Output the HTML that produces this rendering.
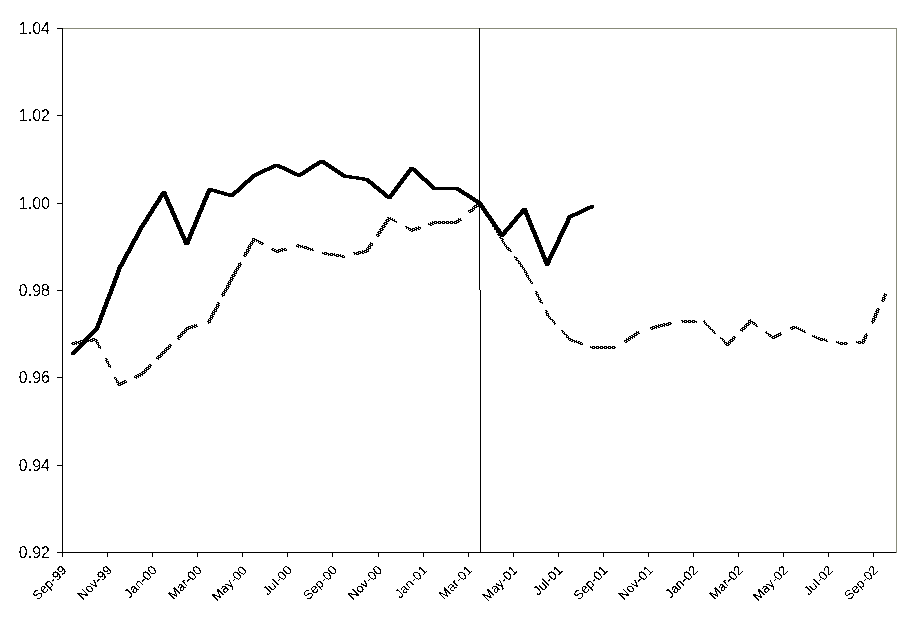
<!DOCTYPE html>
<html><head><meta charset="utf-8"><title>Chart</title>
<style>
html,body{margin:0;padding:0;background:#fff;}
svg{display:block;}
text{font-family:"Liberation Sans",Arial,sans-serif;fill:#000;}
</style></head><body>
<svg width="911" height="623" viewBox="0 0 911 623">
<defs>
<pattern id="dith" patternUnits="userSpaceOnUse" x="0" y="0" width="4" height="2">
<rect x="0" y="0" width="4" height="2" fill="#000"/><rect x="3" y="0" width="1" height="1" fill="#fff"/><rect x="1" y="1" width="1" height="1" fill="#fff"/>
</pattern>
<filter id="crisp" x="0" y="0" width="100%" height="100%" color-interpolation-filters="sRGB">
<feComponentTransfer><feFuncA type="discrete" tableValues="0 1"/></feComponentTransfer>
</filter>
<filter id="crisp2" x="0" y="0" width="100%" height="100%" color-interpolation-filters="sRGB">
<feComponentTransfer><feFuncA type="linear" slope="60" intercept="-27"/></feComponentTransfer>
</filter>
</defs>
<rect x="0" y="0" width="911" height="623" fill="#fff"/>
<g shape-rendering="crispEdges">
<rect x="63" y="28" width="834" height="1" fill="#888b7a"/>
<rect x="896" y="28" width="1" height="525" fill="#888b7a"/>
<rect x="62" y="28" width="1" height="529" fill="#000"/>
<rect x="62" y="552" width="834" height="1" fill="#000"/>
<rect x="57" y="28" width="5" height="1" fill="#000"/>
<rect x="57" y="115" width="5" height="1" fill="#000"/>
<rect x="57" y="203" width="5" height="1" fill="#000"/>
<rect x="57" y="290" width="5" height="1" fill="#000"/>
<rect x="57" y="377" width="5" height="1" fill="#000"/>
<rect x="57" y="465" width="5" height="1" fill="#000"/>
<rect x="57" y="552" width="5" height="1" fill="#000"/>
<rect x="62" y="552" width="1" height="5" fill="#000"/>
<rect x="107" y="552" width="1" height="5" fill="#000"/>
<rect x="152" y="552" width="1" height="5" fill="#000"/>
<rect x="197" y="552" width="1" height="5" fill="#000"/>
<rect x="242" y="552" width="1" height="5" fill="#000"/>
<rect x="287" y="552" width="1" height="5" fill="#000"/>
<rect x="332" y="552" width="1" height="5" fill="#000"/>
<rect x="378" y="552" width="1" height="5" fill="#000"/>
<rect x="423" y="552" width="1" height="5" fill="#000"/>
<rect x="468" y="552" width="1" height="5" fill="#000"/>
<rect x="513" y="552" width="1" height="5" fill="#000"/>
<rect x="558" y="552" width="1" height="5" fill="#000"/>
<rect x="603" y="552" width="1" height="5" fill="#000"/>
<rect x="648" y="552" width="1" height="5" fill="#000"/>
<rect x="693" y="552" width="1" height="5" fill="#000"/>
<rect x="738" y="552" width="1" height="5" fill="#000"/>
<rect x="783" y="552" width="1" height="5" fill="#000"/>
<rect x="828" y="552" width="1" height="5" fill="#000"/>
<rect x="873" y="552" width="1" height="5" fill="#000"/>
<rect x="479" y="28" width="1" height="262" fill="#000"/>
<rect x="480" y="290" width="1" height="262" fill="#000"/>
<path d="M71.00,342.60 L72.77,342.30 L95.31,338.50 L99.80,347.46 M72.00,342.60 L73.77,342.30 L96.31,338.50 L100.80,347.46 M71.00,343.60 L72.77,343.30 L95.31,339.50 L99.80,348.46 M72.00,343.60 L73.77,343.30 L96.31,339.50 L100.80,348.46 M73.00,343.60 L74.77,343.30 L97.31,339.50 L101.80,348.46 M72.00,344.60 L73.77,344.30 L96.31,340.50 L100.80,349.46 M73.00,344.60 L74.77,344.30 L97.31,340.50 L101.80,349.46 M105.00,357.84 L108.90,365.63 M106.00,357.84 L109.90,365.63 M105.00,358.84 L108.90,366.63 M106.00,358.84 L109.90,366.63 M107.00,358.84 L110.90,366.63 M106.00,359.84 L109.90,367.63 M107.00,359.84 L110.90,367.63 M114.60,377.01 L117.85,383.50 L124.70,380.46 M115.60,377.01 L118.85,383.50 L125.70,380.46 M114.60,378.01 L117.85,384.50 L124.70,381.46 M115.60,378.01 L118.85,384.50 L125.70,381.46 M116.60,378.01 L119.85,384.50 L126.70,381.46 M115.60,379.01 L118.85,385.50 L125.70,382.46 M116.60,379.01 L119.85,385.50 L126.70,382.46 M133.70,376.47 L140.39,373.50 L149.70,364.42 M134.70,376.47 L141.39,373.50 L150.70,364.42 M133.70,377.47 L140.39,374.50 L149.70,365.42 M134.70,377.47 L141.39,374.50 L150.70,365.42 M135.70,377.47 L142.39,374.50 L151.70,365.42 M134.70,378.47 L141.39,375.50 L150.70,366.42 M135.70,378.47 L142.39,375.50 L151.70,366.42 M155.60,358.66 L162.93,351.50 L169.90,344.08 M156.60,358.66 L163.93,351.50 L170.90,344.08 M155.60,359.66 L162.93,352.50 L169.90,345.08 M156.60,359.66 L163.93,352.50 L170.90,345.08 M157.60,359.66 L164.93,352.50 L171.90,345.08 M156.60,360.66 L163.93,353.50 L170.90,346.08 M157.60,360.66 L164.93,353.50 L171.90,346.08 M175.80,337.80 L185.47,327.50 L196.40,324.35 M176.80,337.80 L186.47,327.50 L197.40,324.35 M175.80,338.80 L185.47,328.50 L196.40,325.35 M176.80,338.80 L186.47,328.50 L197.40,325.35 M177.80,338.80 L187.47,328.50 L198.40,325.35 M176.80,339.80 L186.47,329.50 L197.40,326.35 M177.80,339.80 L187.47,329.50 L198.40,326.35 M206.80,321.35 L208.01,321.00 L218.20,301.57 M207.80,321.35 L209.01,321.00 L219.20,301.57 M206.80,322.35 L208.01,322.00 L218.20,302.57 M207.80,322.35 L209.01,322.00 L219.20,302.57 M208.80,322.35 L210.01,322.00 L220.20,302.57 M207.80,323.35 L209.01,323.00 L219.20,303.57 M208.80,323.35 L210.01,323.00 L220.20,303.57 M221.60,295.08 L230.55,278.00 L239.70,261.77 M222.60,295.08 L231.55,278.00 L240.70,261.77 M221.60,296.08 L230.55,279.00 L239.70,262.77 M222.60,296.08 L231.55,279.00 L240.70,262.77 M223.60,296.08 L232.55,279.00 L241.70,262.77 M222.60,297.08 L231.55,280.00 L240.70,263.77 M223.60,297.08 L232.55,280.00 L241.70,263.77 M243.40,255.20 L253.09,238.00 L261.80,242.83 M244.40,255.20 L254.09,238.00 L262.80,242.83 M243.40,256.20 L253.09,239.00 L261.80,243.83 M244.40,256.20 L254.09,239.00 L262.80,243.83 M245.40,256.20 L255.09,239.00 L263.80,243.83 M244.40,257.20 L254.09,240.00 L262.80,244.83 M245.40,257.20 L255.09,240.00 L263.80,244.83 M270.80,247.82 L275.64,250.50 L284.90,248.07 M271.80,247.82 L276.64,250.50 L285.90,248.07 M270.80,248.82 L275.64,251.50 L284.90,249.07 M271.80,248.82 L276.64,251.50 L285.90,249.07 M272.80,248.82 L277.64,251.50 L286.90,249.07 M271.80,249.82 L276.64,252.50 L285.90,250.07 M272.80,249.82 L277.64,252.50 L286.90,250.07 M295.60,245.27 L298.18,244.60 L311.80,249.07 M296.60,245.27 L299.18,244.60 L312.80,249.07 M295.60,246.27 L298.18,245.60 L311.80,250.07 M296.60,246.27 L299.18,245.60 L312.80,250.07 M297.60,246.27 L300.18,245.60 L313.80,250.07 M296.60,247.27 L299.18,246.60 L312.80,251.07 M297.60,247.27 L300.18,246.60 L313.80,251.07 M321.60,252.14 L342.50,255.38 M322.60,252.14 L343.50,255.38 M321.60,253.14 L342.50,256.38 M322.60,253.14 L343.50,256.38 M323.60,253.14 L344.50,256.38 M322.60,254.14 L343.50,257.38 M323.60,254.14 L344.50,257.38 M352.70,253.20 L365.80,250.00 L371.40,241.80 M353.70,253.20 L366.80,250.00 L372.40,241.80 M352.70,254.20 L365.80,251.00 L371.40,242.80 M353.70,254.20 L366.80,251.00 L372.40,242.80 M354.70,254.20 L367.80,251.00 L373.40,242.80 M353.70,255.20 L366.80,252.00 L372.40,243.80 M354.70,255.20 L367.80,252.00 L373.40,243.80 M375.90,235.21 L388.34,217.00 L395.40,220.85 M376.90,235.21 L389.34,217.00 L396.40,220.85 M375.90,236.21 L388.34,218.00 L395.40,221.85 M376.90,236.21 L389.34,218.00 L396.40,221.85 M377.90,236.21 L390.34,218.00 L397.40,221.85 M376.90,237.21 L389.34,219.00 L396.40,222.85 M377.90,237.21 L390.34,219.00 L397.40,222.85 M404.90,226.04 L410.88,229.30 L418.60,226.70 M405.90,226.04 L411.88,229.30 L419.60,226.70 M404.90,227.04 L410.88,230.30 L418.60,227.70 M405.90,227.04 L411.88,230.30 L419.60,227.70 M406.90,227.04 L412.88,230.30 L420.60,227.70 M405.90,228.04 L411.88,231.30 L419.60,228.70 M406.90,228.04 L412.88,231.30 L420.60,228.70 M427.80,223.59 L433.42,221.70 L455.96,221.00 L459.50,218.09 M428.80,223.59 L434.42,221.70 L456.96,221.00 L460.50,218.09 M427.80,224.59 L433.42,222.70 L455.96,222.00 L459.50,219.09 M428.80,224.59 L434.42,222.70 L456.96,222.00 L460.50,219.09 M429.80,224.59 L435.42,222.70 L457.96,222.00 L461.50,219.09 M428.80,225.59 L434.42,223.70 L456.96,223.00 L460.50,220.09 M429.80,225.59 L435.42,223.70 L457.96,223.00 L461.50,220.09 M467.70,211.36 L478.50,202.50 L480.80,206.17 M468.70,211.36 L479.50,202.50 L481.80,206.17 M467.70,212.36 L478.50,203.50 L480.80,207.17 M468.70,212.36 L479.50,203.50 L481.80,207.17 M469.70,212.36 L480.50,203.50 L482.80,207.17 M468.70,213.36 L479.50,204.50 L481.80,208.17 M469.70,213.36 L480.50,204.50 L482.80,208.17 M486.60,215.44 L501.04,238.50 L509.60,250.08 M487.60,215.44 L502.04,238.50 L510.60,250.08 M486.60,216.44 L501.04,239.50 L509.60,251.08 M487.60,216.44 L502.04,239.50 L510.60,251.08 M488.60,216.44 L503.04,239.50 L511.60,251.08 M487.60,217.44 L502.04,240.50 L510.60,252.08 M488.60,217.44 L503.04,240.50 L511.60,252.08 M514.00,256.04 L523.58,269.00 L530.50,282.35 M515.00,256.04 L524.58,269.00 L531.50,282.35 M514.00,257.04 L523.58,270.00 L530.50,283.35 M515.00,257.04 L524.58,270.00 L531.50,283.35 M516.00,257.04 L525.58,270.00 L532.50,283.35 M515.00,258.04 L524.58,271.00 L531.50,284.35 M516.00,258.04 L525.58,271.00 L532.50,284.35 M534.90,290.84 L540.60,301.84 M535.90,290.84 L541.60,301.84 M534.90,291.84 L540.60,302.84 M535.90,291.84 L541.60,302.84 M536.90,291.84 L542.60,302.84 M535.90,292.84 L541.60,303.84 M536.90,292.84 L542.60,303.84 M544.90,310.14 L546.12,312.50 L555.60,323.43 M545.90,310.14 L547.12,312.50 L556.60,323.43 M544.90,311.14 L546.12,313.50 L555.60,324.43 M545.90,311.14 L547.12,313.50 L556.60,324.43 M546.90,311.14 L548.12,313.50 L557.60,324.43 M545.90,312.14 L547.12,314.50 L556.60,325.43 M546.90,312.14 L548.12,314.50 L557.60,325.43 M561.70,330.47 L568.66,338.50 L580.70,342.77 M562.70,330.47 L569.66,338.50 L581.70,342.77 M561.70,331.47 L568.66,339.50 L580.70,343.77 M562.70,331.47 L569.66,339.50 L581.70,343.77 M563.70,331.47 L570.66,339.50 L582.70,343.77 M562.70,332.47 L569.66,340.50 L581.70,344.77 M563.70,332.47 L570.66,340.50 L582.70,344.77 M589.70,345.97 L591.20,346.50 L613.74,346.50 L614.40,346.08 M590.70,345.97 L592.20,346.50 L614.74,346.50 L615.40,346.08 M589.70,346.97 L591.20,347.50 L613.74,347.50 L614.40,347.08 M590.70,346.97 L592.20,347.50 L614.74,347.50 L615.40,347.08 M591.70,346.97 L593.20,347.50 L615.74,347.50 L616.40,347.08 M590.70,347.97 L592.20,348.50 L614.74,348.50 L615.40,348.08 M591.70,347.97 L593.20,348.50 L615.74,348.50 L616.40,348.08 M623.50,340.22 L636.28,332.00 L637.90,331.48 M624.50,340.22 L637.28,332.00 L638.90,331.48 M623.50,341.22 L636.28,333.00 L637.90,332.48 M624.50,341.22 L637.28,333.00 L638.90,332.48 M625.50,341.22 L638.28,333.00 L639.90,332.48 M624.50,342.22 L637.28,334.00 L638.90,333.48 M625.50,342.22 L638.28,334.00 L639.90,333.48 M649.70,327.71 L658.82,324.80 L669.60,322.74 M650.70,327.71 L659.82,324.80 L670.60,322.74 M649.70,328.71 L658.82,325.80 L669.60,323.74 M650.70,328.71 L659.82,325.80 L670.60,323.74 M651.70,328.71 L660.82,325.80 L671.60,323.74 M650.70,329.71 L659.82,326.80 L670.60,324.74 M651.70,329.71 L660.82,326.80 L671.60,324.74 M680.70,320.63 L681.36,320.50 L694.50,320.50 M681.70,320.63 L682.36,320.50 L695.50,320.50 M680.70,321.63 L681.36,321.50 L694.50,321.50 M681.70,321.63 L682.36,321.50 L695.50,321.50 M682.70,321.63 L683.36,321.50 L696.50,321.50 M681.70,322.63 L682.36,322.50 L695.50,322.50 M682.70,322.63 L683.36,322.50 L696.50,322.50 M703.10,320.50 L703.91,320.50 L714.70,331.75 M704.10,320.50 L704.91,320.50 L715.70,331.75 M703.10,321.50 L703.91,321.50 L714.70,332.75 M704.10,321.50 L704.91,321.50 L715.70,332.75 M705.10,321.50 L705.91,321.50 L716.70,332.75 M704.10,322.50 L704.91,322.50 L715.70,333.75 M705.10,322.50 L705.91,322.50 L716.70,333.75 M719.60,336.86 L726.45,344.00 L733.80,336.01 M720.60,336.86 L727.45,344.00 L734.80,336.01 M719.60,337.86 L726.45,345.00 L733.80,337.01 M720.60,337.86 L727.45,345.00 L734.80,337.01 M721.60,337.86 L728.45,345.00 L735.80,337.01 M720.60,338.86 L727.45,346.00 L734.80,338.01 M721.60,338.86 L728.45,346.00 L735.80,338.01 M738.90,330.46 L748.99,319.50 L756.30,325.02 M739.90,330.46 L749.99,319.50 L757.30,325.02 M738.90,331.46 L748.99,320.50 L756.30,326.02 M739.90,331.46 L749.99,320.50 L757.30,326.02 M740.90,331.46 L750.99,320.50 L758.30,326.02 M739.90,332.46 L749.99,321.50 L757.30,327.02 M740.90,332.46 L750.99,321.50 L758.30,327.02 M764.70,331.35 L771.53,336.50 L780.30,332.41 M765.70,331.35 L772.53,336.50 L781.30,332.41 M764.70,332.35 L771.53,337.50 L780.30,333.41 M765.70,332.35 L772.53,337.50 L781.30,333.41 M766.70,332.35 L773.53,337.50 L782.30,333.41 M765.70,333.35 L772.53,338.50 L781.30,334.41 M766.70,333.35 L773.53,338.50 L782.30,334.41 M789.60,328.08 L794.07,326.00 L803.60,330.86 M790.60,328.08 L795.07,326.00 L804.60,330.86 M789.60,329.08 L794.07,327.00 L803.60,331.86 M790.60,329.08 L795.07,327.00 L804.60,331.86 M791.60,329.08 L796.07,327.00 L805.60,331.86 M790.60,330.08 L795.07,328.00 L804.60,332.86 M791.60,330.08 L796.07,328.00 L805.60,332.86 M811.80,335.05 L816.61,337.50 L825.70,339.44 M812.80,335.05 L817.61,337.50 L826.70,339.44 M811.80,336.05 L816.61,338.50 L825.70,340.44 M812.80,336.05 L817.61,338.50 L826.70,340.44 M813.80,336.05 L818.61,338.50 L827.70,340.44 M812.80,337.05 L817.61,339.50 L826.70,341.44 M813.80,337.05 L818.61,339.50 L827.70,341.44 M835.80,341.59 L839.15,342.30 L845.70,342.07 M836.80,341.59 L840.15,342.30 L846.70,342.07 M835.80,342.59 L839.15,343.30 L845.70,343.07 M836.80,342.59 L840.15,343.30 L846.70,343.07 M837.80,342.59 L841.15,343.30 L847.70,343.07 M836.80,343.59 L840.15,344.30 L846.70,344.07 M837.80,343.59 L841.15,344.30 L847.70,344.07 M855.70,341.71 L861.69,341.50 L865.90,332.63 M856.70,341.71 L862.69,341.50 L866.90,332.63 M855.70,342.71 L861.69,342.50 L865.90,333.63 M856.70,342.71 L862.69,342.50 L866.90,333.63 M857.70,342.71 L863.69,342.50 L867.90,333.63 M856.70,343.71 L862.69,343.50 L866.90,334.63 M857.70,343.71 L863.69,343.50 L867.90,334.63 M871.00,321.88 L877.50,308.18 M872.00,321.88 L878.50,308.18 M871.00,322.88 L877.50,309.18 M872.00,322.88 L878.50,309.18 M873.00,322.88 L879.50,309.18 M872.00,323.88 L878.50,310.18 M873.00,323.88 L879.50,310.18 M881.40,299.96 L884.23,294.00 L884.87,292.64 M882.40,299.96 L885.23,294.00 L885.87,292.64 M881.40,300.96 L884.23,295.00 L884.87,293.64 M882.40,300.96 L885.23,295.00 L885.87,293.64 M883.40,300.96 L886.23,295.00 L886.87,293.64 M882.40,301.96 L885.23,296.00 L885.87,294.64 M883.40,301.96 L886.23,296.00 L886.87,294.64" fill="none" stroke="url(#dith)" stroke-width="0.99"/>
<path d="M71.79,352.51 L94.81,328.00 L117.35,268.50 L139.89,226.70 L162.43,191.00 L184.97,243.00 L207.51,188.50 L230.05,195.00 L252.59,174.50 L275.14,164.00 L297.68,174.50 L320.22,160.00 L342.76,175.00 L365.30,178.50 L387.84,197.00 L410.38,167.00 L432.92,187.50 L455.46,187.50 L478.00,202.00 L500.54,234.50 L523.08,208.00 L545.62,263.50 L568.16,216.00 L591.34,205.20 M71.79,353.51 L94.81,329.00 L117.35,269.50 L139.89,227.70 L162.43,192.00 L184.97,244.00 L207.51,189.50 L230.05,196.00 L252.59,175.50 L275.14,165.00 L297.68,175.50 L320.22,161.00 L342.76,176.00 L365.30,179.50 L387.84,198.00 L410.38,168.00 L432.92,188.50 L455.46,188.50 L478.00,203.00 L500.54,235.50 L523.08,209.00 L545.62,264.50 L568.16,217.00 L591.34,206.20 M71.79,354.51 L94.81,330.00 L117.35,270.50 L139.89,228.70 L162.43,193.00 L184.97,245.00 L207.51,190.50 L230.05,197.00 L252.59,176.50 L275.14,166.00 L297.68,176.50 L320.22,162.00 L342.76,177.00 L365.30,180.50 L387.84,199.00 L410.38,169.00 L432.92,189.50 L455.46,189.50 L478.00,204.00 L500.54,236.50 L523.08,210.00 L545.62,265.50 L568.16,218.00 L591.34,207.20 M72.79,352.51 L95.81,328.00 L118.35,268.50 L140.89,226.70 L163.43,191.00 L185.97,243.00 L208.51,188.50 L231.05,195.00 L253.59,174.50 L276.14,164.00 L298.68,174.50 L321.22,160.00 L343.76,175.00 L366.30,178.50 L388.84,197.00 L411.38,167.00 L433.92,187.50 L456.46,187.50 L479.00,202.00 L501.54,234.50 L524.08,208.00 L546.62,263.50 L569.16,216.00 L592.34,205.20 M72.79,353.51 L95.81,329.00 L118.35,269.50 L140.89,227.70 L163.43,192.00 L185.97,244.00 L208.51,189.50 L231.05,196.00 L253.59,175.50 L276.14,165.00 L298.68,175.50 L321.22,161.00 L343.76,176.00 L366.30,179.50 L388.84,198.00 L411.38,168.00 L433.92,188.50 L456.46,188.50 L479.00,203.00 L501.54,235.50 L524.08,209.00 L546.62,264.50 L569.16,217.00 L592.34,206.20 M72.79,354.51 L95.81,330.00 L118.35,270.50 L140.89,228.70 L163.43,193.00 L185.97,245.00 L208.51,190.50 L231.05,197.00 L253.59,176.50 L276.14,166.00 L298.68,176.50 L321.22,162.00 L343.76,177.00 L366.30,180.50 L388.84,199.00 L411.38,169.00 L433.92,189.50 L456.46,189.50 L479.00,204.00 L501.54,236.50 L524.08,210.00 L546.62,265.50 L569.16,218.00 L592.34,207.20 M73.79,352.51 L96.81,328.00 L119.35,268.50 L141.89,226.70 L164.43,191.00 L186.97,243.00 L209.51,188.50 L232.05,195.00 L254.59,174.50 L277.14,164.00 L299.68,174.50 L322.22,160.00 L344.76,175.00 L367.30,178.50 L389.84,197.00 L412.38,167.00 L434.92,187.50 L457.46,187.50 L480.00,202.00 L502.54,234.50 L525.08,208.00 L547.62,263.50 L570.16,216.00 L593.34,205.20 M73.79,353.51 L96.81,329.00 L119.35,269.50 L141.89,227.70 L164.43,192.00 L186.97,244.00 L209.51,189.50 L232.05,196.00 L254.59,175.50 L277.14,165.00 L299.68,175.50 L322.22,161.00 L344.76,176.00 L367.30,179.50 L389.84,198.00 L412.38,168.00 L434.92,188.50 L457.46,188.50 L480.00,203.00 L502.54,235.50 L525.08,209.00 L547.62,264.50 L570.16,217.00 L593.34,206.20 M73.79,354.51 L96.81,330.00 L119.35,270.50 L141.89,228.70 L164.43,193.00 L186.97,245.00 L209.51,190.50 L232.05,197.00 L254.59,176.50 L277.14,166.00 L299.68,176.50 L322.22,162.00 L344.76,177.00 L367.30,180.50 L389.84,199.00 L412.38,169.00 L434.92,189.50 L457.46,189.50 L480.00,204.00 L502.54,236.50 L525.08,210.00 L547.62,265.50 L570.16,218.00 L593.34,207.20 M74.79,352.51 L97.81,328.00 L120.35,268.50 L142.89,226.70 L165.43,191.00 L187.97,243.00 L210.51,188.50 L233.05,195.00 L255.59,174.50 L278.14,164.00 L300.68,174.50 L323.22,160.00 L345.76,175.00 L368.30,178.50 L390.84,197.00 L413.38,167.00 L435.92,187.50 L458.46,187.50 L481.00,202.00 L503.54,234.50 L526.08,208.00 L548.62,263.50 L571.16,216.00 L594.34,205.20 M74.79,353.51 L97.81,329.00 L120.35,269.50 L142.89,227.70 L165.43,192.00 L187.97,244.00 L210.51,189.50 L233.05,196.00 L255.59,175.50 L278.14,165.00 L300.68,175.50 L323.22,161.00 L345.76,176.00 L368.30,179.50 L390.84,198.00 L413.38,168.00 L435.92,188.50 L458.46,188.50 L481.00,203.00 L503.54,235.50 L526.08,209.00 L548.62,264.50 L571.16,217.00 L594.34,206.20 M74.79,354.51 L97.81,330.00 L120.35,270.50 L142.89,228.70 L165.43,193.00 L187.97,245.00 L210.51,190.50 L233.05,197.00 L255.59,176.50 L278.14,166.00 L300.68,176.50 L323.22,162.00 L345.76,177.00 L368.30,180.50 L390.84,199.00 L413.38,169.00 L435.92,189.50 L458.46,189.50 L481.00,204.00 L503.54,236.50 L526.08,210.00 L548.62,265.50 L571.16,218.00 L594.34,207.20" fill="none" stroke="#000" stroke-width="0.99"/>
</g>
<g filter="url(#crisp)">
<text x="50" y="34" font-size="16" text-anchor="end">1.04</text>
<text x="50" y="121" font-size="16" text-anchor="end">1.02</text>
<text x="50" y="209" font-size="16" text-anchor="end">1.00</text>
<text x="50" y="296" font-size="16" text-anchor="end">0.98</text>
<text x="50" y="383" font-size="16" text-anchor="end">0.96</text>
<text x="50" y="471" font-size="16" text-anchor="end">0.94</text>
<text x="50" y="558" font-size="16" text-anchor="end">0.92</text>
</g>
<g filter="url(#crisp2)">
<text x="67.4" y="571" font-size="13" text-anchor="end" transform="rotate(-45 67.4 571)">Sep-99</text>
<text x="112.5" y="571" font-size="13" text-anchor="end" transform="rotate(-45 112.5 571)">Nov-99</text>
<text x="157.6" y="571" font-size="13" text-anchor="end" transform="rotate(-45 157.6 571)">Jan-00</text>
<text x="202.6" y="571" font-size="13" text-anchor="end" transform="rotate(-45 202.6 571)">Mar-00</text>
<text x="247.7" y="571" font-size="13" text-anchor="end" transform="rotate(-45 247.7 571)">May-00</text>
<text x="292.8" y="571" font-size="13" text-anchor="end" transform="rotate(-45 292.8 571)">Jul-00</text>
<text x="337.9" y="571" font-size="13" text-anchor="end" transform="rotate(-45 337.9 571)">Sep-00</text>
<text x="383.0" y="571" font-size="13" text-anchor="end" transform="rotate(-45 383.0 571)">Nov-00</text>
<text x="428.0" y="571" font-size="13" text-anchor="end" transform="rotate(-45 428.0 571)">Jan-01</text>
<text x="473.1" y="571" font-size="13" text-anchor="end" transform="rotate(-45 473.1 571)">Mar-01</text>
<text x="518.2" y="571" font-size="13" text-anchor="end" transform="rotate(-45 518.2 571)">May-01</text>
<text x="563.3" y="571" font-size="13" text-anchor="end" transform="rotate(-45 563.3 571)">Jul-01</text>
<text x="608.4" y="571" font-size="13" text-anchor="end" transform="rotate(-45 608.4 571)">Sep-01</text>
<text x="653.5" y="571" font-size="13" text-anchor="end" transform="rotate(-45 653.5 571)">Nov-01</text>
<text x="698.5" y="571" font-size="13" text-anchor="end" transform="rotate(-45 698.5 571)">Jan-02</text>
<text x="743.6" y="571" font-size="13" text-anchor="end" transform="rotate(-45 743.6 571)">Mar-02</text>
<text x="788.7" y="571" font-size="13" text-anchor="end" transform="rotate(-45 788.7 571)">May-02</text>
<text x="833.8" y="571" font-size="13" text-anchor="end" transform="rotate(-45 833.8 571)">Jul-02</text>
<text x="878.9" y="571" font-size="13" text-anchor="end" transform="rotate(-45 878.9 571)">Sep-02</text>
</g>
</svg>
</body></html>
